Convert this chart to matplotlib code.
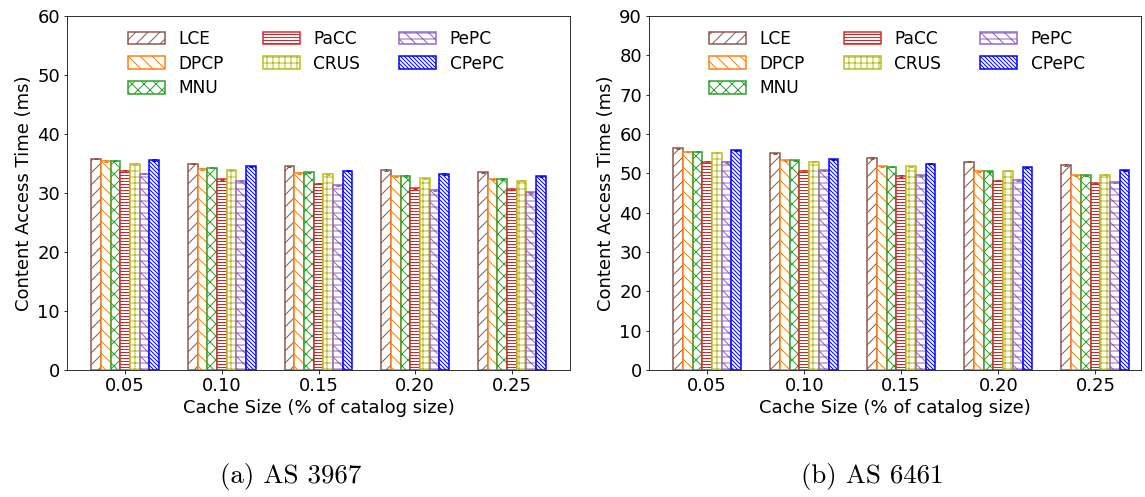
import numpy as np
import matplotlib
matplotlib.use("Agg")
import matplotlib.pyplot as plt

# Cache sizes (% of catalog size)
cache_sizes = ["0.05", "0.10", "0.15", "0.20", "0.25"]
schemes = ["LCE", "DPCP", "MNU", "PaCC", "CRUS", "PePC", "CPePC"]

# Content access time (ms) for AS 3967
as3967_lce = [35.8, 35.0, 34.5, 33.9, 33.5]
as3967_dpcp = [35.4, 34.1, 33.4, 32.8, 32.3]
as3967_mnu = [35.5, 34.3, 33.5, 32.9, 32.4]
as3967_pacc = [33.7, 32.3, 31.6, 30.8, 30.6]
as3967_crus = [34.9, 33.9, 33.2, 32.5, 32.1]
as3967_pepc = [33.3, 32.0, 31.3, 30.5, 30.1]
as3967_cpepc = [35.6, 34.5, 33.8, 33.2, 32.8]

# Content access time (ms) for AS 6461
as6461_lce = [56.4, 55.1, 53.9, 53.0, 52.1]
as6461_dpcp = [55.5, 53.3, 51.8, 50.5, 49.5]
as6461_mnu = [55.5, 53.3, 51.7, 50.5, 49.5]
as6461_pacc = [52.9, 50.6, 49.3, 48.1, 47.5]
as6461_crus = [55.2, 53.0, 51.8, 50.7, 49.6]
as6461_pepc = [52.9, 50.8, 49.5, 48.3, 47.7]
as6461_cpepc = [55.9, 53.6, 52.5, 51.5, 50.8]

# Confidence half-widths (ms)
as3967_err = 0.12
as6461_err = 0.15

colors = ["tab:brown", "tab:orange", "tab:green", "tab:red",
          "tab:olive", "tab:purple", "blue"]
hatches = ["//", "\\\\", "xx", "----", "++", "\\\\--", "\\\\\\\\\\\\"]

DPI = 72
fig = plt.figure(figsize=(1145 / DPI, 497 / DPI), dpi=DPI)
plt.rcParams["hatch.linewidth"] = 1.0

ax1 = fig.add_axes([67 / 1145, 1 - 370 / 497, (570 - 67) / 1145, 354 / 497])
ax2 = fig.add_axes([649 / 1145, 1 - 370 / 497, (1141 - 649) / 1145, 354 / 497])

panels = [
    (ax1, [as3967_lce, as3967_dpcp, as3967_mnu, as3967_pacc, as3967_crus,
           as3967_pepc, as3967_cpepc], as3967_err, 60, (-0.6, 4.6)),
    (ax2, [as6461_lce, as6461_dpcp, as6461_mnu, as6461_pacc, as6461_crus,
           as6461_pepc, as6461_cpepc], as6461_err, 90, (-0.6, 4.47)),
]

x = np.arange(len(cache_sizes))
width = 0.1
fs = 18

for ax, series, err, ymax, xlim in panels:
    for i, (name, vals) in enumerate(zip(schemes, series)):
        offs = (i - 3) * width
        ax.bar(x + offs, vals, width, label=name, color="white",
               edgecolor=colors[i], hatch=hatches[i], linewidth=1.5,
               yerr=err,
               error_kw=dict(ecolor=colors[i], capsize=2, elinewidth=1,
                             capthick=1))
    ax.set_ylim(0, ymax)
    ax.set_xlim(*xlim)
    ax.set_xticks(x)
    ax.set_xticklabels(cache_sizes)
    ax.tick_params(labelsize=fs)
    ax.set_xlabel("Cache Size (% of catalog size)", fontsize=fs, labelpad=4)
    ax.set_ylabel("Content Access Time (ms)", fontsize=fs)

leg_kw = dict(ncol=3, frameon=False, fontsize=17, loc="upper left",
              handlelength=2.17, handleheight=0.77, labelspacing=0.4,
              columnspacing=2.3, handletextpad=0.8, borderaxespad=0,
              bbox_transform=fig.transFigure)
ax1.legend(bbox_to_anchor=(121 / 1145, 1 - 23 / 497), **leg_kw)
ax2.legend(bbox_to_anchor=(702 / 1145, 1 - 23 / 497), **leg_kw)

fig.text(291 / 1145, 1 - 477 / 497, "(a) AS 3967", ha="center", va="center",
         fontsize=27, family="cmr10")
fig.text(872 / 1145, 1 - 477 / 497, "(b) AS 6461", ha="center", va="center",
         fontsize=27, family="cmr10")

fig.savefig("out.png", dpi=DPI)
